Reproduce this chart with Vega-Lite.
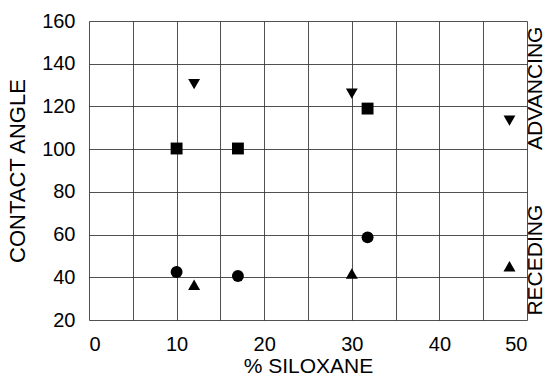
{
  "$schema": "https://vega.github.io/schema/vega-lite/v6.json",
  "width": 438,
  "height": 299,
  "autosize": "none",
  "padding": {"left": 89, "top": 21, "right": 21, "bottom": 55},
  "background": "white",
  "config": {"font": "Liberation Sans", "view": {"stroke": null}},
  "layer": [
    {
      "data": {"values": [
        {"pct": 12, "angle": 130.5, "series": "Advancing A"},
        {"pct": 30, "angle": 126, "series": "Advancing A"},
        {"pct": 48, "angle": 113.3, "series": "Advancing A"},
        {"pct": 10, "angle": 100.3, "series": "Advancing B"},
        {"pct": 17, "angle": 100.3, "series": "Advancing B"},
        {"pct": 31.8, "angle": 119, "series": "Advancing B"},
        {"pct": 10, "angle": 42.5, "series": "Receding B"},
        {"pct": 17, "angle": 40.6, "series": "Receding B"},
        {"pct": 31.8, "angle": 58.7, "series": "Receding B"},
        {"pct": 12, "angle": 36.5, "series": "Receding A"},
        {"pct": 30, "angle": 41.8, "series": "Receding A"},
        {"pct": 48, "angle": 45.2, "series": "Receding A"}
      ]},
      "mark": {"type": "point", "filled": true, "color": "black", "opacity": 1},
      "encoding": {
        "x": {
          "field": "pct", "type": "quantitative",
          "scale": {"domain": [0, 50], "nice": false, "zero": false},
          "axis": {
            "values": [0, 5, 10, 15, 20, 25, 30, 35, 40, 45, 50],
            "labelExpr": "datum.value % 10 === 0 ? datum.label : ''",
            "ticks": false, "domain": false, "grid": true,
            "gridColor": "#333", "gridWidth": 1, "gridOpacity": 0.85,
            "labelFontSize": 20, "labelPadding": 14, "labelColor": "black",
            "title": "% SILOXANE", "titleFontSize": 21, "titleFontWeight": "normal",
            "titleColor": "black", "titlePadding": 1
          }
        },
        "y": {
          "field": "angle", "type": "quantitative",
          "scale": {"domain": [20, 160], "nice": false, "zero": false},
          "axis": {
            "values": [20, 30, 40, 50, 60, 70, 80, 90, 100, 110, 120, 130, 140, 150, 160],
            "labelExpr": "datum.value % 20 === 0 ? datum.label : ''",
            "ticks": false, "domain": false, "grid": true,
            "gridColor": "#333", "gridWidth": 1, "gridOpacity": 0.85,
            "labelFontSize": 20, "labelPadding": 14, "labelColor": "black",
            "title": "CONTACT ANGLE", "titleFontSize": 22, "titleFontWeight": "normal",
            "titleColor": "black", "titlePadding": 12
          }
        },
        "shape": {
          "field": "series", "type": "nominal",
          "scale": {
            "domain": ["Advancing A", "Advancing B", "Receding B", "Receding A"],
            "range": ["triangle-down", "square", "circle", "triangle-up"]
          },
          "legend": null
        },
        "size": {
          "field": "series", "type": "nominal",
          "scale": {
            "domain": ["Advancing A", "Advancing B", "Receding B", "Receding A"],
            "range": [140, 144, 130, 140]
          },
          "legend": null
        }
      }
    },
    {
      "data": {"values": [
        {"pct": 50, "angle": 128.5, "label": "ADVANCING"},
        {"pct": 50, "angle": 48, "label": "RECEDING"}
      ]},
      "mark": {"type": "text", "angle": 270, "baseline": "top", "align": "center", "fontSize": 21, "dy": -2, "color": "black"},
      "encoding": {
        "x": {"field": "pct", "type": "quantitative"},
        "y": {"field": "angle", "type": "quantitative"},
        "text": {"field": "label"}
      }
    }
  ]
}
